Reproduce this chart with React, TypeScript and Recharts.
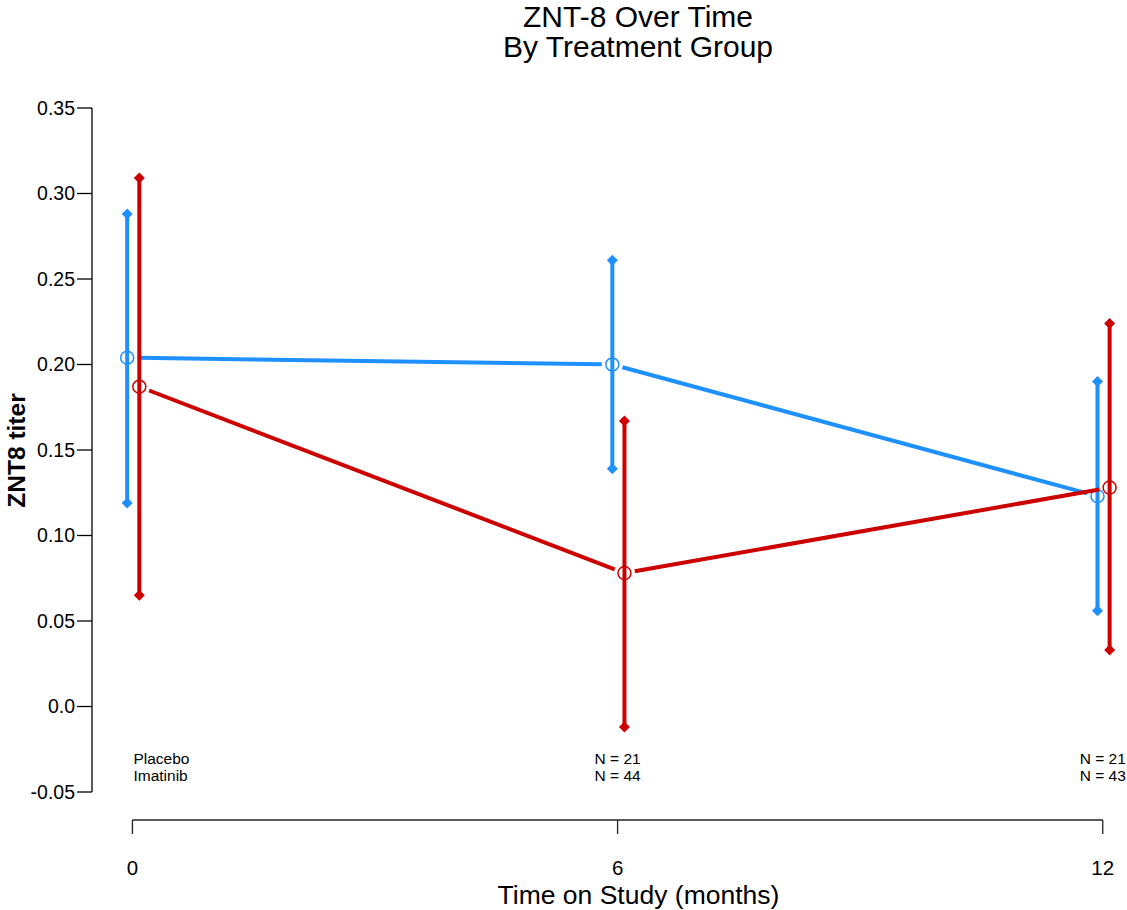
import { ComposedChart, Scatter, XAxis, YAxis } from "recharts";

// values
const months = [0, 6, 12];

const placeboMean = [0.204, 0.2, 0.123];
const placeboLower = [0.119, 0.139, 0.056];
const placeboUpper = [0.288, 0.261, 0.19];

const imatinibMean = [0.187, 0.078, 0.128];
const imatinibLower = [0.065, -0.012, 0.033];
const imatinibUpper = [0.309, 0.167, 0.224];

const countTop = ["Placebo", "N = 21", "N = 21"];
const countBottom = ["Imatinib", "N = 44", "N = 43"];
const countRowY = [-0.03, -0.04];

const yTicks = [-0.05, 0, 0.05, 0.1, 0.15, 0.2, 0.25, 0.3, 0.35];
const yTickLabels = ["-0.05", "0.0", "0.05", "0.10", "0.15", "0.20", "0.25", "0.30", "0.35"];
const xTicks = [0, 6, 12];

const BLUE = "#1E90FF";
const RED = "#CD0000";
const FONT = '"Liberation Sans", Arial, Helvetica, sans-serif';

const W = 1127;
const H = 910;
const PLOT_LEFT = 92;
const X_DOMAIN = [-0.5, 12.3];
const pxPerMonth = (W - PLOT_LEFT) / (X_DOMAIN[1] - X_DOMAIN[0]);

// groups are dodged a little so the bars don't sit on top of each other
const PLACEBO_DODGE = -0.065;
const IMATINIB_DODGE = 0.085;

const makeRows = (mean, dodge) => months.map((m, i) => ({ x: m + dodge, y: mean[i] }));
// lower / upper pairs, in order, so each pair becomes one bar
const makeCaps = (lo, hi, dodge) =>
  months.flatMap((m, i) => [
    { x: m + dodge, y: lo[i] },
    { x: m + dodge, y: hi[i] },
  ]);

const placeboRows = makeRows(placeboMean, PLACEBO_DODGE);
const imatinibRows = makeRows(imatinibMean, IMATINIB_DODGE);
const placeboCaps = makeCaps(placeboLower, placeboUpper, PLACEBO_DODGE);
const imatinibCaps = makeCaps(imatinibLower, imatinibUpper, IMATINIB_DODGE);

const countRows = months.flatMap((m, i) => [
  { x: m, y: countRowY[0], text: countTop[i], first: i === 0 },
  { x: m, y: countRowY[1], text: countBottom[i], first: i === 0 },
]);

// R type="b": segments stop short of the points
const gapLine = (color) => (props) => {
  const pts = props.points || [];
  const GAP = 10.5;
  const segs = [];
  for (let i = 0; i < pts.length - 1; i++) {
    const a = pts[i];
    const b = pts[i + 1];
    const dx = b.x - a.x;
    const dy = b.y - a.y;
    const len = Math.hypot(dx, dy);
    const ux = dx / len;
    const uy = dy / len;
    segs.push(
      <line
        key={i}
        x1={a.x + ux * GAP}
        y1={a.y + uy * GAP}
        x2={b.x - ux * GAP}
        y2={b.y - uy * GAP}
        stroke={color}
        strokeWidth={4}
      />
    );
  }
  return <g>{segs}</g>;
};

// joins lower/upper pairs into vertical interval bars
const pairBars = (color) => (props) => {
  const pts = props.points || [];
  const bars = [];
  for (let i = 0; i + 1 < pts.length; i += 2) {
    bars.push(
      <line
        key={i}
        x1={pts[i].x}
        y1={pts[i].y}
        x2={pts[i + 1].x}
        y2={pts[i + 1].y}
        stroke={color}
        strokeWidth={4}
      />
    );
  }
  return <g>{bars}</g>;
};

const hollowCircle = (color) => (p) => (
  <circle cx={p.cx} cy={p.cy} r={6.5} fill="none" stroke={color} strokeWidth={1.5} />
);

const diamond = (color) => (p) => (
  <polygon
    points={`${p.cx},${p.cy - 5.5} ${p.cx + 5.5},${p.cy} ${p.cx},${p.cy + 5.5} ${p.cx - 5.5},${p.cy}`}
    fill={color}
  />
);

const countText = (p) => (
  <text
    x={p.cx + (p.payload.first ? 1 : 0)}
    y={p.cy}
    dy="0.4em"
    textAnchor={p.payload.first ? "start" : "middle"}
    fontSize={15.5}
    fill="#000"
  >
    {p.payload.text}
  </text>
);

function MonthTick(props) {
  const { x, y, payload, index } = props;
  const span = (xTicks[xTicks.length - 1] - xTicks[0]) * pxPerMonth;
  return (
    <g>
      {index === 0 && (
        <line x1={x} x2={x + span} y1={y + 28} y2={y + 28} stroke="#222" strokeWidth={1.3} />
      )}
      <line x1={x} x2={x} y1={y + 28} y2={y + 42} stroke="#222" strokeWidth={1.3} />
      <text x={x} y={y + 83} textAnchor="middle" fontSize={20.5} fill="#000">
        {payload.value}
      </text>
    </g>
  );
}

const fmtY = (v) => {
  const i = yTicks.indexOf(v);
  return i >= 0 ? yTickLabels[i] : String(v);
};

export default function App() {
  return (
    <div style={{ position: "absolute", left: 0, top: 0, width: W, height: H, background: "#fff", fontFamily: FONT }}>
      <ComposedChart width={W} height={H} margin={{ top: 108, right: 0, bottom: 0, left: 0 }}>
        <XAxis
          type="number"
          dataKey="x"
          domain={X_DOMAIN}
          ticks={xTicks}
          interval={0}
          axisLine={false}
          tickLine={false}
          tickSize={0}
          tickMargin={0}
          height={118}
          tick={(p) => <MonthTick {...p} />}
          allowDataOverflow
        />
        <YAxis
          type="number"
          dataKey="y"
          domain={[-0.05, 0.35]}
          ticks={yTicks}
          interval={0}
          width={PLOT_LEFT}
          tickSize={15}
          tickMargin={2}
          axisLine={{ stroke: "#000", strokeWidth: 1.3 }}
          tickLine={{ stroke: "#000", strokeWidth: 1.3 }}
          tick={{ fontSize: 19.5, fill: "#000" }}
          tickFormatter={fmtY}
          allowDataOverflow
        />

        <Scatter data={placeboCaps} line={pairBars(BLUE)} shape={diamond(BLUE)} isAnimationActive={false} />
        <Scatter data={placeboRows} line={gapLine(BLUE)} shape={hollowCircle(BLUE)} isAnimationActive={false} />

        <Scatter data={imatinibCaps} line={pairBars(RED)} shape={diamond(RED)} isAnimationActive={false} />
        <Scatter data={imatinibRows} line={gapLine(RED)} shape={hollowCircle(RED)} isAnimationActive={false} />

        <Scatter data={countRows} shape={countText} isAnimationActive={false} />
      </ComposedChart>

      <svg
        width={W}
        height={H}
        style={{ position: "absolute", left: 0, top: 0, pointerEvents: "none" }}
        fontFamily={FONT}
      >
        <text x={638} y={27} textAnchor="middle" fontSize={30} fill="#000">
          ZNT-8 Over Time
        </text>
        <text x={638} y={57} textAnchor="middle" fontSize={30} fill="#000">
          By Treatment Group
        </text>
        <text x={638.5} y={904} textAnchor="middle" fontSize={26.5} fill="#000">
          Time on Study (months)
        </text>
        <text
          transform="translate(25,450.5) rotate(-90)"
          textAnchor="middle"
          fontSize={24.5}
          fontWeight="bold"
          fill="#000"
        >
          ZNT8 titer
        </text>
      </svg>
    </div>
  );
}
